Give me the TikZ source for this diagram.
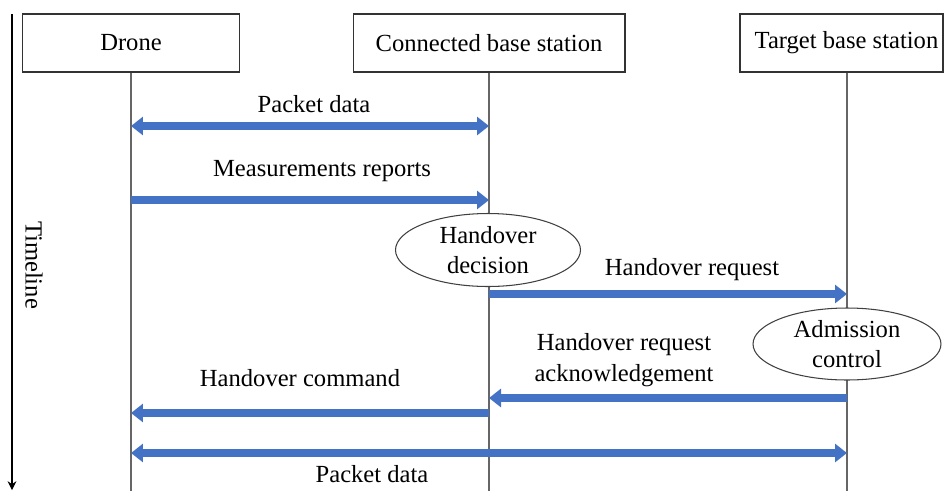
\documentclass[tikz,border=0pt]{standalone}
\usepackage{fontspec}
\setmainfont{Liberation Serif}
\usetikzlibrary{arrows.meta,shapes.geometric}
\definecolor{msgblue}{HTML}{4472C4}

\begin{document}
\begin{tikzpicture}[x=0.02cm,y=-0.02cm,font=\fontsize{14}{17.5}\selectfont,
  >={Triangle[length=0.24cm,width=0.36cm]},
  actor/.style={draw=black!80,line width=0.6pt,minimum height=1.16cm,inner sep=0pt},
  life/.style={draw=black!60,line width=0.8pt},
  event/.style={draw=black!75,line width=0.6pt,ellipse,fill=white,align=center,inner sep=0pt,minimum width=3.7cm,minimum height=1.46cm},
  msg/.style={draw=msgblue,line width=4.5pt,->},
  both/.style={msg,<->}]
\useasboundingbox (0,0) rectangle (944,491);
\node[actor,minimum width=4.34cm] (drone) at (131,43) {Drone};
\node[actor,minimum width=5.44cm] (cbs) at (489,43) {Connected base station};
\node[actor,minimum width=4.06cm] (tbs) at (841.5,43) {\hspace*{0.2cm}Target base station};
\coordinate (dLife) at (131,491);
\coordinate (cLife) at (489,491);
\coordinate (tLife) at (847,491);
\draw[life] (drone.south) -- (dLife);
\draw[life] (cbs.south) -- (cLife);
\draw[life] (tLife |- tbs.south) -- (tLife);
\coordinate (t0) at (12,14);
\coordinate (t1) at (12,490);
\draw[line width=0.6pt,-{Stealth[length=5pt,width=5pt]}] (t0) -- (t1);
\node[rotate=-90] (timeline) at (34,265) {Timeline};
\node[event] (hd) at (488,250) {Handover\\decision};
\node[event,minimum width=3.76cm,minimum height=1.44cm] (ac) at (847,344) {Admission\\control};
\draw[both] (dLife |- 0,126) -- (cLife |- 0,126);
\node (pd1) at (314,104) {Packet data};
\draw[msg] (dLife |- 0,200) -- (cLife |- 0,200);
\node (mr) at (322,171) {Measurements reports};
\draw[msg] (cLife |- 0,294) -- (tLife |- 0,294);
\node (hr) at (692,270) {Handover request};
\draw[msg] (tLife |- 0,398) -- (cLife |- 0,398);
\node[align=center] (hra) at (624,360) {Handover request\\acknowledgement};
\draw[msg] (cLife |- 0,413) -- (dLife |- 0,413);
\node (hc) at (300,378) {Handover command};
\draw[both] (dLife |- 0,453) -- (tLife |- 0,453);
\node (pd2) at (372,474) {Packet data};
\end{tikzpicture}
\end{document}
